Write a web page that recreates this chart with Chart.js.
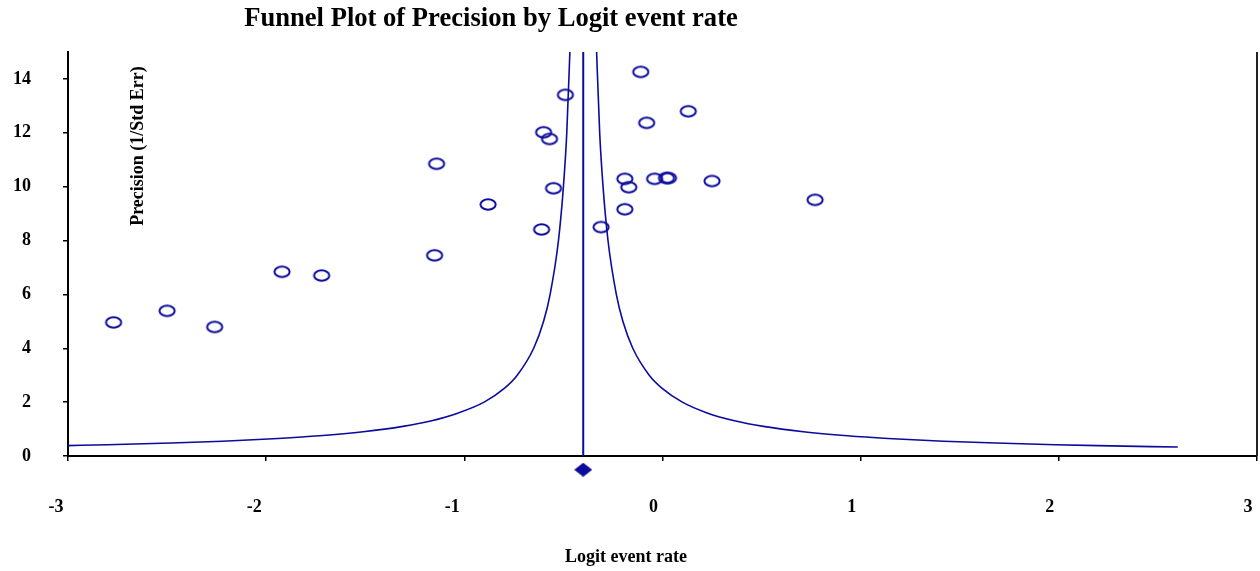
<!DOCTYPE html>
<html>
<head>
<meta charset="utf-8">
<title>Funnel Plot of Precision by Logit event rate</title>
<script src="https://cdn.jsdelivr.net/npm/chart.js@4.4.1/dist/chart.umd.min.js"></script>
<style>
  html, body { margin: 0; padding: 0; background: #ffffff; }
  canvas { display: block; }
</style>
</head>
<body>
<canvas id="funnel" width="1260" height="571"></canvas>
<script>
// Individual studies: logit event rate and precision (1 / standard error)
const studyLogit = [
  -2.77, -2.50, -2.26, -1.92, -1.72, -1.15, -1.14, -0.88, -0.61, -0.60,
  -0.57, -0.55, -0.49, -0.31, -0.19, -0.19, -0.17, -0.11, -0.08, -0.04,
   0.02,  0.03,  0.13,  0.25,  0.77
];
const studyPrecision = [
   4.96,  5.39,  4.79,  6.84,  6.70,  7.45, 10.85,  9.34,  8.41, 12.02,
  11.77,  9.94, 13.41,  8.50, 10.29,  9.16,  9.98, 14.26, 12.37, 10.29,
  10.32, 10.32, 12.80, 10.21,  9.51
];

// Combined estimate, shown as a diamond under the axis
const summaryLogit = [-0.40];
const summaryPosition = [-0.51];

// Funnel limits (left and right boundary)
const funnelLeftX = [
  -3.000, -2.800, -2.480, -2.220, -1.940, -1.730, -1.510, -1.310, -1.170,
  -1.030, -0.900, -0.800, -0.733, -0.650, -0.600, -0.567, -0.525, -0.500,
  -0.483, -0.465
];
const funnelLeftY = [
  0.385, 0.42, 0.48, 0.55, 0.65, 0.75, 0.90, 1.10, 1.30,
  1.60, 2.00, 2.50, 3.00, 4.00, 5.00, 6.00, 8.00, 10.00,
  12.00, 15.50
];
const funnelRightX = [
  -0.335, -0.317, -0.300, -0.275, -0.233, -0.200, -0.150, -0.067, 0.000,
   0.100,  0.225,  0.369,  0.509,  0.711,  0.933,  1.138,  1.418, 1.683,
   1.981,  2.197,  2.600
];
const funnelRightY = [
  15.50, 12.00, 10.00, 8.00, 6.00, 5.00, 4.00, 3.00, 2.50,
  2.00, 1.60, 1.30, 1.10, 0.90, 0.75, 0.65, 0.55, 0.48,
  0.42, 0.385, 0.333
];

// Vertical line through the combined estimate
const meanLineX = [-0.40, -0.40];
const meanLineY = [0, 15];

// Axis ticks
const xTicks = [-3, -2, -1, 0, 1, 2, 3];
const yTicks = [0, 2, 4, 6, 8, 10, 12, 14];

const BLUE = '#0b0b9c';
const SERIF = '"Liberation Serif", "Times New Roman", "DejaVu Serif", serif';

function toPoints(xs, ys) {
  return xs.map((x, i) => ({ x: x, y: ys[i] }));
}

// Open ellipse marker for the studies
function makeEllipseMarker() {
  const c = document.createElement('canvas');
  c.width = 20; c.height = 15;
  const g = c.getContext('2d');
  g.strokeStyle = BLUE;
  g.lineWidth = 2;
  g.beginPath();
  g.ellipse(10, 7.5, 7.6, 5.2, 0, 0, Math.PI * 2);
  g.stroke();
  return c;
}

// Filled diamond marker for the combined estimate
function makeDiamondMarker() {
  const c = document.createElement('canvas');
  c.width = 18; c.height = 14;
  const g = c.getContext('2d');
  g.fillStyle = BLUE;
  g.beginPath();
  g.moveTo(9, 0);
  g.lineTo(18, 7);
  g.lineTo(9, 14);
  g.lineTo(0, 7);
  g.closePath();
  g.fill();
  return c;
}

// Title, axis titles and right frame line
const decorations = {
  id: 'decorations',
  afterDraw(chart) {
    const { ctx, chartArea } = chart;
    ctx.save();
    // right frame line
    ctx.strokeStyle = '#222';
    ctx.lineWidth = 2;
    ctx.beginPath();
    ctx.moveTo(chartArea.right, chartArea.top);
    ctx.lineTo(chartArea.right, chartArea.bottom);
    ctx.stroke();

    ctx.fillStyle = '#000';
    ctx.textAlign = 'center';
    ctx.textBaseline = 'middle';
    ctx.font = 'bold 26.6px ' + SERIF;
    ctx.fillText('Funnel Plot of Precision by Logit event rate', 491, 19);

    ctx.font = 'bold 18px ' + SERIF;
    ctx.fillText('Logit event rate', 626, 557);

    ctx.translate(138, 146);
    ctx.rotate(-Math.PI / 2);
    ctx.font = 'bold 18px ' + SERIF;
    ctx.fillText('Precision (1/Std Err)', 0, 0);
    ctx.restore();
  }
};

const lineStyle = {
  type: 'scatter',
  showLine: true,
  borderColor: BLUE,
  borderWidth: 1.6,
  pointRadius: 0,
  pointHoverRadius: 0,
  fill: false,
  cubicInterpolationMode: 'monotone'
};

new Chart(document.getElementById('funnel'), {
  type: 'scatter',
  data: {
    datasets: [
      Object.assign({}, lineStyle, { label: 'Lower limit', data: toPoints(funnelLeftX, funnelLeftY) }),
      Object.assign({}, lineStyle, { label: 'Upper limit', data: toPoints(funnelRightX, funnelRightY) }),
      Object.assign({}, lineStyle, { label: 'Combined', data: toPoints(meanLineX, meanLineY), borderWidth: 2, cubicInterpolationMode: 'default' }),
      {
        label: 'Studies',
        data: toPoints(studyLogit, studyPrecision),
        pointStyle: makeEllipseMarker(),
        pointRadius: 8,
        borderWidth: 0
      },
      {
        label: 'Combined estimate',
        data: toPoints(summaryLogit, summaryPosition),
        pointStyle: makeDiamondMarker(),
        pointRadius: 16,
        borderWidth: 0,
        clip: false
      }
    ]
  },
  options: {
    responsive: false,
    animation: false,
    devicePixelRatio: 1,
    layout: { autoPadding: false, padding: { top: 52, right: 3, left: 0, bottom: 0 } },
    plugins: {
      legend: { display: false },
      tooltip: { enabled: false },
      title: { display: false }
    },
    events: [],
    scales: {
      x: {
        type: 'linear',
        min: -3,
        max: 3,
        afterBuildTicks: s => { s.ticks = xTicks.map(v => ({ value: v })); },
        afterFit: s => { s.height = 115; s.paddingLeft = 0; s.paddingRight = 0; },
        ticks: {
          color: '#000',
          font: { family: SERIF, size: 18, weight: 'bold' },
          padding: 36,
          align: 'end',
          callback: v => v + ' '
        },
        grid: {
          display: true,
          drawOnChartArea: false,
          drawTicks: true,
          tickLength: 5,
          color: '#000',
          lineWidth: 1.5
        },
        border: { display: true, color: '#000', width: 2 }
      },
      y: {
        type: 'linear',
        min: 0,
        max: 15,
        afterBuildTicks: s => { s.ticks = yTicks.map(v => ({ value: v })); },
        afterFit: s => { s.width = 68; },
        ticks: {
          color: '#000',
          font: { family: SERIF, size: 18, weight: 'bold' },
          padding: 32
        },
        grid: {
          display: true,
          drawOnChartArea: false,
          drawTicks: true,
          tickLength: 5,
          color: '#000',
          lineWidth: 1.5
        },
        border: { display: true, color: '#000', width: 2 }
      }
    }
  },
  plugins: [decorations]
});
</script>
</body>
</html>
